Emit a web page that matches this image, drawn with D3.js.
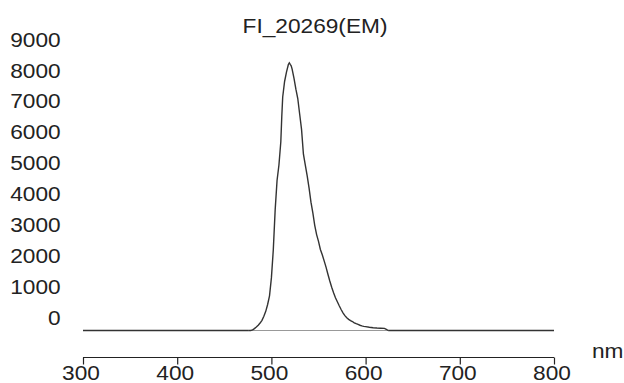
<!DOCTYPE html>
<html>
<head>
<meta charset="utf-8">
<script src="https://cdn.jsdelivr.net/npm/d3@7"></script>
<style>
  html, body { margin: 0; padding: 0; background: #fff; }
  svg { display: block; }
</style>
</head>
<body>
<svg id="chart" width="624" height="383"></svg>
<script>
// emission spectrum
const title = "FI_20269(EM)";
const xUnit = "nm";
const xTicks = [300, 400, 500, 600, 700, 800];
const yTicks = [0, 1000, 2000, 3000, 4000, 5000, 6000, 7000, 8000, 9000];

const wavelength = [300, 476, 478, 480, 482, 484, 486, 488, 490, 492, 494, 496, 498, 500, 502, 504, 506, 508, 510, 511, 512, 514, 516, 518, 519, 520, 521, 522, 524, 526, 528, 530, 532, 534, 536, 538, 540, 542, 544, 546, 548, 550, 552, 554, 556, 558, 560, 562, 564, 566, 568, 570, 572, 574, 576, 578, 580, 582, 584, 586, 588, 590, 592, 594, 596, 598, 600, 604, 608, 612, 616, 620, 622, 624, 800];
const intensity = [0, 0, 0, 20, 60, 110, 170, 240, 330, 460, 620, 840, 1120, 1700, 2600, 3900, 4850, 5350, 6100, 6900, 7550, 8050, 8350, 8600, 8650, 8600, 8560, 8450, 8150, 7800, 7500, 7000, 6500, 5700, 5350, 5000, 4600, 4150, 3800, 3400, 3100, 2880, 2620, 2450, 2250, 2050, 1820, 1600, 1400, 1220, 1060, 930, 800, 680, 570, 480, 410, 360, 320, 290, 250, 220, 195, 170, 150, 135, 125, 105, 90, 80, 75, 70, 40, 0, 0];

const svg = d3.select("#chart");
const font = "'Liberation Sans', Arial, sans-serif";
const fs = 21, sx = 1.08; // text in the picture is a little wide

const x = d3.scaleLinear().domain([300, 800]).range([83, 554]);
const y = d3.scaleLinear().domain([0, 9000]).range([330.5, 52.1]);

const data = wavelength.map((w, i) => ({ w, v: intensity[i] }));

// stretched text helper
function label(tx, ty, txt, anchor) {
  svg.append("text")
    .attr("transform", `translate(${tx},${ty}) scale(${sx},1)`)
    .attr("text-anchor", anchor)
    .style("font-family", font)
    .style("font-size", fs + "px")
    .attr("fill", "#222")
    .text(txt);
}

label(315, 33, title, "middle");

// y labels, no axis line
yTicks.forEach(v => label(60.7, y(v) - 5.5, String(v), "end"));

// x axis, ticks hanging down
const axisY = 357.5;
const gx = svg.append("g").attr("transform", `translate(0,${axisY})`)
  .call(d3.axisBottom(x).tickValues(xTicks).tickSize(7).tickFormat(""));
gx.select(".domain").attr("stroke", "#222").attr("stroke-width", 1.2)
  .attr("d", `M${x(300)},0H${x(800)}`);
gx.selectAll(".tick line").attr("stroke", "#222").attr("stroke-width", 1.2);
xTicks.forEach(t => label(x(t) - 2, 380, String(t), "middle"));
label(592, 358, xUnit, "start");

// zero line under the peak
svg.append("line")
  .attr("x1", x(300)).attr("x2", x(800))
  .attr("y1", y(0)).attr("y2", y(0))
  .attr("stroke", "#999").attr("stroke-width", 1.2);

// spectrum
const line = d3.line().x(d => x(d.w)).y(d => y(d.v));
const inPeak = d => d.w >= 476 && d.w <= 624;
svg.append("path")
  .datum(data.filter(inPeak))
  .attr("d", line)
  .attr("fill", "none")
  .attr("stroke", "#333")
  .attr("stroke-width", 1.4);
// flat parts outside the peak
[[data[0], data[1]], [data[data.length - 2], data[data.length - 1]]].forEach(seg => {
  svg.append("path").datum(seg).attr("d", line)
    .attr("fill", "none").attr("stroke", "#333").attr("stroke-width", 1.4);
});
</script>
</body>
</html>
